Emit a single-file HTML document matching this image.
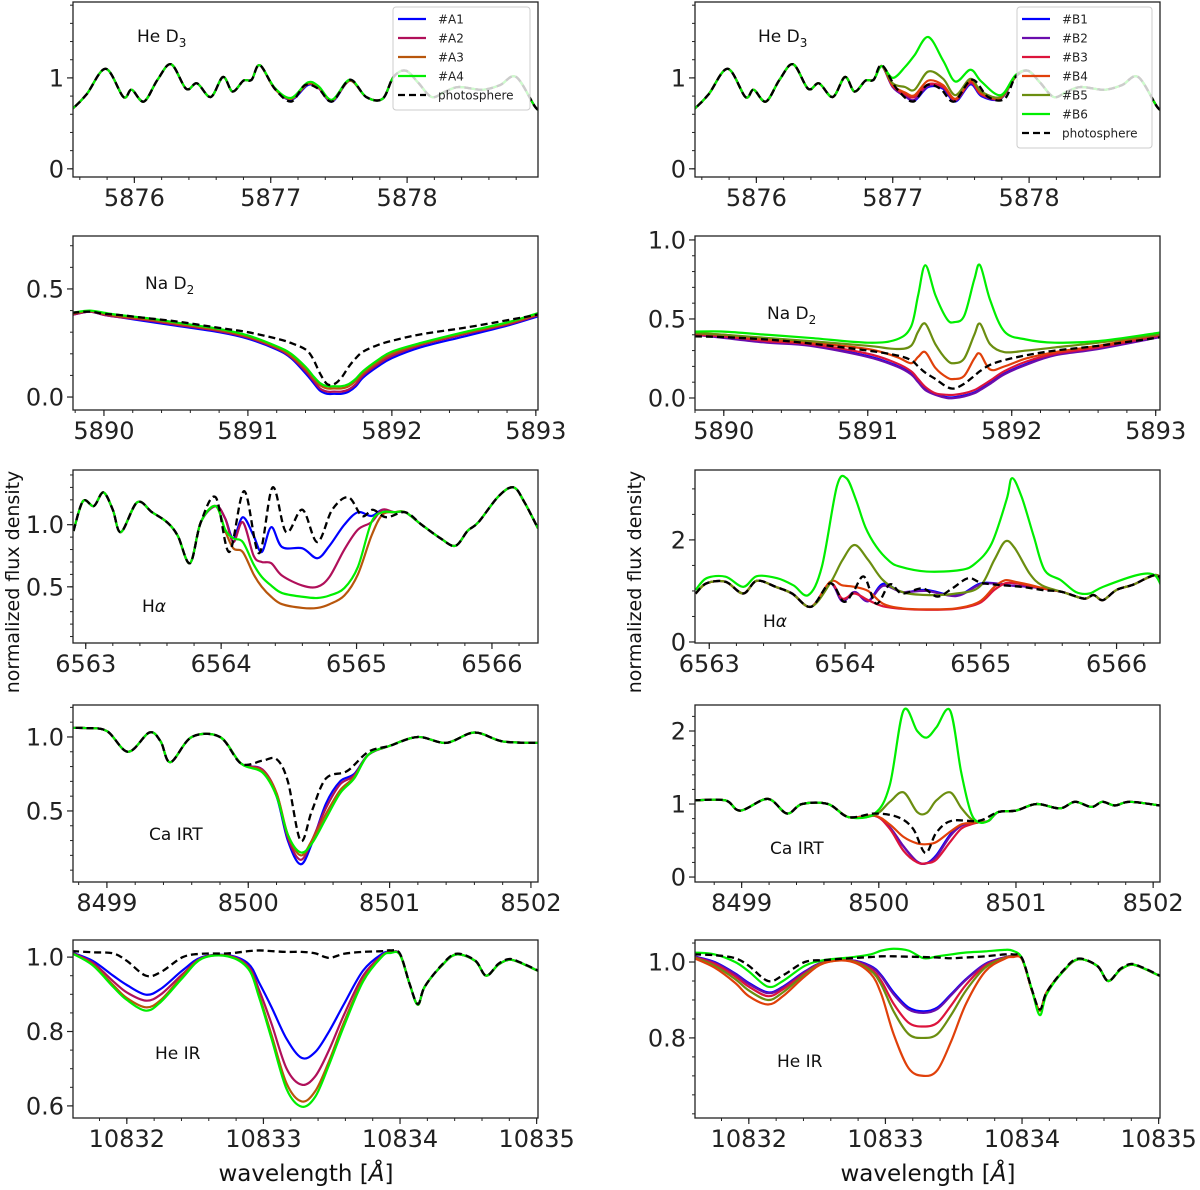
<!DOCTYPE html>
<html><head><meta charset="utf-8"><title>Spectral line profiles</title>
<style>
html,body{margin:0;padding:0;background:#fff;}
svg{display:block;font-family:"DejaVu Sans","Liberation Sans",sans-serif;}
</style></head>
<body>
<svg id="fig" width="1200" height="1190" viewBox="0 0 1200 1190" xmlns="http://www.w3.org/2000/svg">
<text x="0" y="0" transform="translate(19,582) rotate(-90)" text-anchor="middle" font-size="19" fill="#111">normalized flux density</text>
<text x="0" y="0" transform="translate(641,582) rotate(-90)" text-anchor="middle" font-size="19" fill="#111">normalized flux density</text>
<text x="306" y="1181" text-anchor="middle" font-size="23" fill="#111">wavelength [<tspan font-style="italic">Å</tspan>]</text>
<text x="928" y="1181" text-anchor="middle" font-size="23" fill="#111">wavelength [<tspan font-style="italic">Å</tspan>]</text>
</svg>
<script>
// ---------- He D3 ----------
const hed3X=[5875.5,5875.55,5875.65,5875.79,5875.92,5875.98,5876.07,5876.17,5876.27,5876.38,5876.46,5876.56,5876.65,5876.72,5876.80,5876.86,5876.92,5877.03,5877.15,5877.25,5877.35,5877.45,5877.58,5877.70,5877.82,5877.90,5877.99,5878.08,5878.18,5878.28,5878.38,5878.55,5878.68,5878.80,5878.94,5879.0];
const hed3Photo=[0.62,0.665,0.82,1.10,0.79,0.87,0.74,0.98,1.15,0.88,0.94,0.79,1.01,0.85,0.97,0.98,1.14,0.88,0.74,0.92,0.88,0.74,0.98,0.79,0.77,1.01,1.08,0.95,0.79,0.85,0.90,0.87,0.92,1.01,0.68,0.62];
const hed3WinA=[5877.03,5877.15,5877.27,5877.35,5877.45,5877.58];
const hed3A1=[0.88,0.76,0.92,0.89,0.74,0.97];
const hed3A2=[0.88,0.77,0.93,0.89,0.75,0.97];
const hed3A3=[0.88,0.77,0.935,0.90,0.75,0.97];
const hed3A4=[0.89,0.78,0.95,0.91,0.76,0.98];
const hed3WinB=[5876.92,5877.0,5877.09,5877.16,5877.26,5877.37,5877.46,5877.57,5877.65,5877.79,5877.9];
const hed3B1=[1.13,0.90,0.80,0.75,0.90,0.88,0.74,0.93,0.80,0.77,1.01];
const hed3B2=[1.13,0.90,0.80,0.76,0.91,0.89,0.75,0.94,0.81,0.77,1.01];
const hed3B3=[1.13,0.91,0.82,0.79,0.93,0.90,0.76,0.95,0.82,0.78,1.01];
const hed3B4=[1.13,0.92,0.84,0.81,0.97,0.92,0.77,0.97,0.83,0.78,1.01];
const hed3B5=[1.13,0.94,0.90,0.87,1.07,0.99,0.81,0.99,0.85,0.79,1.01];
const hed3B6=[1.13,1.0,1.12,1.25,1.45,1.19,0.96,1.09,0.96,0.81,1.03];
// ---------- Na D2 ----------
const naLX=[5889.78,5889.9,5890.0,5890.1,5890.3,5890.5,5890.8,5891.0,5891.2,5891.3,5891.4,5891.45,5891.5,5891.55,5891.6,5891.65,5891.7,5891.75,5891.8,5891.9,5892.0,5892.2,5892.5,5892.8,5893.0,5893.05];
const naLPhoto=[0.39,0.395,0.385,0.38,0.365,0.35,0.32,0.30,0.27,0.25,0.22,0.18,0.11,0.06,0.06,0.09,0.14,0.18,0.21,0.24,0.26,0.29,0.32,0.355,0.38,0.39];
const naA1=[0.38,0.395,0.38,0.37,0.35,0.33,0.30,0.27,0.22,0.18,0.11,0.07,0.03,0.015,0.015,0.015,0.025,0.05,0.09,0.14,0.18,0.23,0.28,0.33,0.37,0.38];
const naA2=[0.38,0.395,0.38,0.37,0.355,0.335,0.305,0.275,0.225,0.185,0.12,0.08,0.04,0.025,0.025,0.025,0.035,0.06,0.10,0.15,0.19,0.24,0.29,0.335,0.375,0.385];
const naA3=[0.385,0.398,0.385,0.375,0.36,0.34,0.31,0.28,0.23,0.19,0.13,0.09,0.055,0.04,0.04,0.04,0.05,0.075,0.11,0.16,0.20,0.245,0.295,0.34,0.38,0.39];
const naA4=[0.39,0.40,0.39,0.38,0.365,0.345,0.315,0.285,0.235,0.20,0.14,0.10,0.065,0.05,0.05,0.05,0.06,0.085,0.12,0.17,0.21,0.25,0.30,0.345,0.385,0.395];
const naRX=[5889.8,5890.0,5890.3,5890.6,5891.0,5891.2,5891.3,5891.35,5891.4,5891.47,5891.55,5891.6,5891.67,5891.74,5891.78,5891.85,5891.95,5892.1,5892.3,5892.6,5893.0,5893.05];
const naRPhoto=[0.39,0.385,0.37,0.345,0.30,0.27,0.24,0.20,0.16,0.12,0.07,0.06,0.09,0.14,0.17,0.21,0.24,0.27,0.30,0.33,0.38,0.39];
const naB1=[0.40,0.385,0.355,0.335,0.265,0.205,0.155,0.105,0.055,0.025,0.005,0.005,0.015,0.035,0.055,0.095,0.155,0.215,0.275,0.315,0.385,0.395];
const naB2=[0.40,0.38,0.35,0.33,0.26,0.20,0.15,0.10,0.05,0.02,0.00,0.00,0.01,0.03,0.05,0.09,0.15,0.21,0.27,0.31,0.38,0.39];
const naB3=[0.40,0.39,0.36,0.34,0.28,0.22,0.17,0.12,0.07,0.03,0.02,0.02,0.03,0.05,0.07,0.11,0.17,0.23,0.28,0.32,0.39,0.40];
const naB4=[0.41,0.40,0.37,0.35,0.31,0.26,0.22,0.26,0.29,0.19,0.13,0.12,0.14,0.25,0.28,0.18,0.20,0.25,0.29,0.33,0.40,0.41];
const naB5=[0.41,0.40,0.38,0.36,0.33,0.31,0.33,0.42,0.47,0.34,0.24,0.22,0.25,0.40,0.47,0.34,0.29,0.30,0.32,0.35,0.40,0.41];
const naB6=[0.42,0.42,0.40,0.38,0.35,0.37,0.45,0.65,0.84,0.65,0.50,0.48,0.52,0.75,0.84,0.62,0.42,0.37,0.35,0.36,0.41,0.42];
// ---------- H alpha ----------
const haLX=[6562.91,6562.98,6563.06,6563.13,6563.2,6563.26,6563.38,6563.49,6563.6,6563.68,6563.77,6563.85,6563.96,6564.06,6564.17,6564.28,6564.38,6564.48,6564.60,6564.71,6564.82,6564.94,6565.04,6565.12,6565.22,6565.36,6565.48,6565.62,6565.73,6565.82,6565.9,6566.05,6566.16,6566.24,6566.34];
const haLPhoto=[0.95,1.19,1.15,1.26,1.12,0.94,1.18,1.10,1.02,0.91,0.69,1.02,1.22,0.78,1.27,0.77,1.30,0.94,1.12,0.86,1.12,1.22,1.07,1.12,1.06,1.10,1.0,0.89,0.83,0.95,1.02,1.23,1.30,1.18,0.97];
const haWinA=[6563.96,6564.03,6564.09,6564.16,6564.24,6564.30,6564.37,6564.45,6564.6,6564.71,6564.8,6564.91,6565.01,6565.11,6565.19,6565.28];
const haA1=[1.15,1.05,0.89,1.06,0.91,0.78,0.98,0.82,0.81,0.73,0.83,1.0,1.10,1.07,1.12,1.10];
const haA2=[1.15,1.05,0.86,1.02,0.75,0.70,0.69,0.59,0.51,0.50,0.58,0.80,0.96,1.02,1.12,1.10];
const haA3=[1.15,0.95,0.81,0.78,0.60,0.50,0.42,0.36,0.33,0.33,0.36,0.43,0.60,0.91,1.08,1.10];
const haA4=[1.15,0.96,0.89,0.86,0.68,0.58,0.51,0.45,0.42,0.41,0.43,0.49,0.66,1.02,1.10,1.10];
const haRX=[6562.9,6562.98,6563.12,6563.25,6563.35,6563.49,6563.61,6563.75,6563.89,6563.99,6564.06,6564.14,6564.23,6564.33,6564.42,6564.57,6564.68,6564.79,6564.91,6565.02,6565.3,6565.45,6565.6,6565.76,6565.83,6565.9,6566.0,6566.12,6566.3,6566.34];
const haRPhoto=[0.95,1.15,1.18,0.95,1.2,1.08,0.95,0.69,1.15,0.79,0.98,1.28,0.75,1.13,0.95,1.05,0.89,1.05,1.25,1.15,1.08,1.02,0.98,0.85,0.92,0.82,1.02,1.12,1.31,0.95];
const haB6X=[6562.9,6562.98,6563.12,6563.25,6563.35,6563.5,6563.62,6563.73,6563.83,6563.94,6564.01,6564.08,6564.15,6564.23,6564.32,6564.40,6564.6,6564.85,6564.96,6565.08,6565.19,6565.23,6565.3,6565.39,6565.47,6565.59,6565.70,6565.8,6565.9,6566.15,6566.28,6566.34];
const haB6=[1.02,1.25,1.28,1.08,1.29,1.25,1.11,0.92,1.48,3.05,3.21,2.79,2.25,1.87,1.60,1.48,1.38,1.41,1.54,1.93,2.79,3.21,2.85,2.07,1.41,1.21,0.98,0.95,1.08,1.31,1.31,1.02];
const haWinB=[6563.89,6563.98,6564.07,6564.17,6564.28,6564.42,6564.6,6564.82,6564.99,6565.1,6565.18,6565.25,6565.36,6565.45];
const haB1=[1.15,0.80,0.98,0.80,1.14,0.98,1.02,0.91,1.14,1.15,1.12,1.10,1.08,1.05];
const haB2=[1.15,0.80,0.98,0.80,1.10,0.98,1.0,0.90,1.12,1.15,1.12,1.10,1.08,1.05];
const haB3=[1.15,0.85,0.95,0.82,0.70,0.65,0.63,0.65,0.76,1.02,1.15,1.15,1.10,1.05];
const haB4=[1.18,1.11,1.08,1.0,0.75,0.66,0.64,0.66,0.79,1.08,1.21,1.18,1.12,1.06];
const haB5=[1.15,1.60,1.90,1.61,1.21,0.98,0.92,0.95,1.08,1.61,1.97,1.84,1.34,1.11];
// ---------- Ca IRT ----------
const caLX=[8498.7,8498.85,8499.0,8499.15,8499.3,8499.38,8499.45,8499.6,8499.8,8499.95,8500.1,8500.2,8500.28,8500.37,8500.45,8500.55,8500.7,8500.85,8501.0,8501.2,8501.4,8501.6,8501.8,8502.05];
const caLPhoto=[1.06,1.06,1.04,0.90,1.03,0.97,0.83,1.0,1.0,0.82,0.84,0.85,0.70,0.30,0.50,0.72,0.77,0.90,0.94,1.0,0.96,1.03,0.97,0.96];
const caWinA=[8499.95,8500.1,8500.2,8500.28,8500.37,8500.45,8500.55,8500.65,8500.75,8500.85];
const caA1=[0.82,0.78,0.60,0.30,0.14,0.28,0.55,0.70,0.75,0.88];
const caA2=[0.82,0.78,0.62,0.32,0.17,0.30,0.52,0.68,0.74,0.88];
const caA3=[0.82,0.77,0.62,0.34,0.20,0.30,0.48,0.64,0.73,0.88];
const caA4=[0.82,0.76,0.60,0.34,0.22,0.28,0.45,0.62,0.72,0.88];
const caRX=[8498.65,8498.88,8498.99,8499.19,8499.33,8499.44,8499.63,8499.78,8499.97,8500.14,8500.25,8500.34,8500.42,8500.53,8500.73,8500.87,8501.0,8501.15,8501.32,8501.43,8501.55,8501.63,8501.72,8501.83,8502.05];
const caRPhoto=[1.05,1.05,0.91,1.07,0.87,1.0,1.0,0.82,0.87,0.82,0.66,0.33,0.61,0.77,0.77,0.89,0.91,1.0,0.94,1.03,0.96,1.03,0.98,1.03,0.98];
const caWinB=[8499.97,8500.08,8500.18,8500.28,8500.35,8500.42,8500.52,8500.6,8500.67,8500.73,8500.8];
const caB1=[0.84,0.68,0.42,0.21,0.19,0.30,0.58,0.71,0.73,0.75,0.77];
const caB2=[0.84,0.68,0.42,0.21,0.19,0.28,0.56,0.70,0.73,0.75,0.77];
const caB3=[0.84,0.66,0.36,0.20,0.19,0.24,0.48,0.66,0.72,0.75,0.77];
const caB4=[0.84,0.72,0.55,0.46,0.45,0.48,0.62,0.72,0.74,0.75,0.77];
const caB5=[0.85,1.03,1.16,0.89,0.88,1.05,1.16,0.95,0.80,0.75,0.77];
const caB6=[0.87,1.26,2.28,2.0,1.91,2.05,2.28,1.44,0.89,0.75,0.77];
// ---------- He IR ----------
const heirX=[10831.6,10831.75,10831.9,10832.0,10832.14,10832.25,10832.41,10832.55,10832.74,10832.89,10832.97,10833.06,10833.17,10833.28,10833.38,10833.48,10833.59,10833.73,10833.87,10833.93,10834.0,10834.07,10834.13,10834.18,10834.3,10834.41,10834.55,10834.63,10834.72,10834.8,10834.88,10835.01];
const heirTail=[0.928,0.872,0.92,0.975,1.007,0.99,0.95,0.98,0.993,0.985,0.963];
const heirLPhoto=[1.016,1.013,1.01,0.99,0.95,0.96,1.0,1.009,1.01,1.016,1.018,1.016,1.014,1.014,1.01,0.998,1.009,1.014,1.016,1.018,1.009,0.928,0.874,0.92,0.977,1.009,0.991,0.95,0.982,0.995,0.986,0.964];
const heirA1=[1.012,0.99,0.95,0.925,0.899,0.915,0.965,1.0,1.005,0.982,0.93,0.865,0.78,0.729,0.745,0.80,0.874,0.964,1.009,1.013,1.008].concat(heirTail);
const heirA2=[1.011,0.985,0.935,0.905,0.883,0.90,0.955,0.998,1.004,0.975,0.91,0.82,0.70,0.657,0.68,0.75,0.845,0.95,1.005,1.012,1.007].concat(heirTail);
const heirA3=[1.01,0.98,0.925,0.89,0.865,0.885,0.95,0.997,1.003,0.97,0.895,0.79,0.66,0.612,0.64,0.72,0.825,0.94,1.003,1.012,1.007].concat(heirTail);
const heirA4=[1.01,0.978,0.92,0.885,0.856,0.88,0.945,0.996,1.002,0.968,0.89,0.78,0.645,0.598,0.625,0.71,0.815,0.935,1.002,1.011,1.006].concat(heirTail);
const heirRPhoto=[1.02,1.018,1.01,0.99,0.95,0.965,1.0,1.005,1.01,1.013,1.015,1.015,1.014,1.013,1.012,1.01,1.012,1.015,1.02,1.02,1.01,0.93,0.875,0.92,0.977,1.009,0.99,0.95,0.982,0.995,0.986,0.964];
const heirB1=[1.015,1.0,0.97,0.945,0.92,0.935,0.975,1.0,1.005,0.99,0.965,0.92,0.88,0.87,0.88,0.915,0.955,0.995,1.012,1.015,1.008].concat(heirTail);
const heirB2=[1.014,0.998,0.968,0.942,0.918,0.933,0.974,1.0,1.005,0.988,0.962,0.915,0.875,0.866,0.876,0.912,0.953,0.994,1.012,1.015,1.008].concat(heirTail);
const heirB3=[1.013,0.995,0.962,0.935,0.91,0.928,0.97,0.999,1.004,0.982,0.95,0.89,0.84,0.83,0.84,0.885,0.94,0.99,1.011,1.015,1.008].concat(heirTail);
const heirB4=[1.01,0.985,0.945,0.91,0.888,0.91,0.962,0.997,1.002,0.97,0.915,0.81,0.72,0.70,0.715,0.79,0.89,0.975,1.008,1.013,1.007].concat(heirTail);
const heirB5=[1.012,0.99,0.955,0.925,0.90,0.92,0.967,0.998,1.003,0.978,0.94,0.87,0.81,0.80,0.81,0.86,0.925,0.985,1.01,1.014,1.008].concat(heirTail);
const heirB6=[1.025,1.02,1.0,0.975,0.935,0.95,0.99,1.005,1.012,1.02,1.03,1.035,1.03,1.01,1.015,1.02,1.025,1.028,1.032,1.03,1.01,0.93,0.86,0.915,0.975,1.007,0.99,0.95,0.98,0.993,0.985,0.963];

// colors / names
const namesA=["#A1","#A2","#A3","#A4"];
const namesB=["#B1","#B2","#B3","#B4","#B5","#B6"];
const colA=["#0000ff","#b0105a","#b8560c","#00ee00"];
const colB=["#0000ff","#6a0dad","#dc143c","#e0400a","#6b8e10","#00ee00"];

const NS="http://www.w3.org/2000/svg";
const svg=document.getElementById("fig");
function mk(tag,attrs,parent){const e=document.createElementNS(NS,tag);for(const k in attrs)e.setAttribute(k,attrs[k]);(parent||svg).appendChild(e);return e;}

function splice(bx,by,wx,wy){const lo=wx[0],hi=wx[wx.length-1];const xs=[],ys=[];let done=false;
  for(let i=0;i<bx.length;i++){ if(bx[i]<lo||bx[i]>hi){ if(bx[i]>hi&&!done){xs.push(...wx);ys.push(...wy);done=true;} xs.push(bx[i]);ys.push(by[i]);} }
  if(!done){xs.push(...wx);ys.push(...wy);} return [xs,ys];}

function smoothPath(pts){let d="M"+pts[0][0].toFixed(2)+","+pts[0][1].toFixed(2);
  for(let i=0;i<pts.length-1;i++){const p0=pts[i-1]||pts[i],p1=pts[i],p2=pts[i+1],p3=pts[i+2]||p2;
    const c1=[p1[0]+(p2[0]-p0[0])/6,p1[1]+(p2[1]-p0[1])/6],c2=[p2[0]-(p3[0]-p1[0])/6,p2[1]-(p3[1]-p1[1])/6];
    d+="C"+c1[0].toFixed(2)+","+c1[1].toFixed(2)+" "+c2[0].toFixed(2)+","+c2[1].toFixed(2)+" "+p2[0].toFixed(2)+","+p2[1].toFixed(2);}
  return d;}

let clipN=0;
function panel(c){
  const g=mk("g",{});
  
  
  const X=v=>c.x0+(v-c.xmin)/(c.xmax-c.xmin)*c.w;
  const Y=v=>c.y0+c.h-(v-c.ymin)/(c.ymax-c.ymin)*c.h;
  const id="clip"+(clipN++);
  const cp=mk("clipPath",{id:id},g);mk("rect",{x:c.x0,y:c.y0,width:c.w,height:c.h},cp);
  const lg=mk("g",{"clip-path":"url(#"+id+")"},g);
  c.series.forEach(s=>{
    const pts=s.xs.map((v,i)=>[X(v),Y(s.ys[i])]);
    const p=mk("path",{d:smoothPath(pts),fill:"none",stroke:s.color,"stroke-width":s.dash?2.3:2.2,"stroke-linejoin":"round"},lg);
    if(s.dash)p.setAttribute("stroke-dasharray","7,4");
    
    
  });
  const fr=mk("rect",{x:c.x0,y:c.y0,width:c.w,height:c.h,fill:"none",stroke:"#222","stroke-width":1.3},g);
  
  
  for(let v=Math.ceil(c.xmin/0.2)*0.2;v<=c.xmax;v+=0.2){const x=X(v);mk("line",{x1:x,x2:x,y1:c.y0+c.h,y2:c.y0+c.h+3,stroke:"#222","stroke-width":1},g);}
  c.xt.forEach(v=>{const x=X(v);mk("line",{x1:x,x2:x,y1:c.y0+c.h,y2:c.y0+c.h+6,stroke:"#222","stroke-width":1.2},g);
    const t=mk("text",{x:x,y:c.y0+c.h+29,"text-anchor":"middle","font-size":24,fill:"#222"},g);t.textContent=String(v);
    
    });
  const st=c.ymstep;for(let v=Math.ceil(c.ymin/st-1e-6)*st;v<=c.ymax+1e-9;v+=st){const y=Y(v);mk("line",{x1:c.x0-3,x2:c.x0,y1:y,y2:y,stroke:"#222","stroke-width":1},g);}
  c.yt.forEach((v,i)=>{const y=Y(v);mk("line",{x1:c.x0-6,x2:c.x0,y1:y,y2:y,stroke:"#222","stroke-width":1.2},g);
    const t=mk("text",{x:c.x0-9,y:y+8.5,"text-anchor":"end","font-size":24,fill:"#222"},g);t.textContent=c.ytl[i];
    
    });
  const lb=mk("text",{x:c.lx,y:c.ly,"font-size":17,fill:"#111"},g);lb.innerHTML=c.label;
  
  
  if(c.legend){const L=c.legend;const n=L.names.length;
    const lgd=mk("g",{},g);
    
    
    mk("rect",{x:L.x,y:L.y,width:L.w,height:n*19+8,rx:3,fill:"#fff","fill-opacity":0.8,stroke:"#ccc","stroke-width":1},lgd);
    L.names.forEach((nm,i)=>{const yy=L.y+12+i*19;
      const ln=mk("line",{x1:L.x+5,x2:L.x+33,y1:yy,y2:yy,stroke:L.colors[i],"stroke-width":2.2},lgd);
      if(nm==="photosphere")ln.setAttribute("stroke-dasharray","7,4");
      const t=mk("text",{x:L.x+45,y:yy+4.5,"font-size":12,fill:"#222"},lgd);t.textContent=nm;
      
      });}
}
function ser(xs,ys,color,name,dash){return {xs:xs,ys:ys,color:color,name:name,dash:!!dash};}

const L0=73,R0=695,W=465;
const legA={x:393,y:7,w:137,names:namesA.concat(["photosphere"]),colors:colA.concat(["#000"])};
const legB={x:1017,y:7,w:135,names:namesB.concat(["photosphere"]),colors:colB.concat(["#000"])};

const hedA=[hed3A1,hed3A2,hed3A3,hed3A4], hedB=[hed3B1,hed3B2,hed3B3,hed3B4,hed3B5,hed3B6];
panel({name:"panel-he-d3-a",x0:L0,y0:2,w:W,h:175,xmin:5875.55,xmax:5878.96,ymin:-0.09,ymax:1.835,xt:[5876,5877,5878],yt:[0,1],ytl:["0","1"],ymstep:0.2,
  label:'He D<tspan font-size="12" dy="5">3</tspan>',lx:137,ly:42,legend:legA,
  series:hedA.map((a,i)=>{const s=splice(hed3X,hed3Photo,hed3WinA,a);return ser(s[0],s[1],colA[i],"line-a"+(i+1));}).concat([ser(hed3X,hed3Photo,"#000","line-photosphere",true)])});
panel({name:"panel-he-d3-b",x0:R0,y0:2,w:W,h:175,xmin:5875.55,xmax:5878.96,ymin:-0.09,ymax:1.835,xt:[5876,5877,5878],yt:[0,1],ytl:["0","1"],ymstep:0.2,
  label:'He D<tspan font-size="12" dy="5">3</tspan>',lx:758,ly:42,legend:legB,
  series:hedB.map((a,i)=>{const s=splice(hed3X,hed3Photo,hed3WinB,a);return ser(s[0],s[1],colB[i],"line-b"+(i+1));}).concat([ser(hed3X,hed3Photo,"#000","line-photosphere",true)])});
panel({name:"panel-na-d2-a",x0:L0,y0:236,w:W,h:174,xmin:5889.785,xmax:5893.015,ymin:-0.06,ymax:0.745,xt:[5890,5891,5892,5893],yt:[0,0.5],ytl:["0.0","0.5"],ymstep:0.1,
  label:'Na D<tspan font-size="12" dy="5">2</tspan>',lx:145,ly:289,
  series:[naA1,naA2,naA3,naA4].map((a,i)=>ser(naLX,a,colA[i],"line-a"+(i+1))).concat([ser(naLX,naLPhoto,"#000","line-photosphere",true)])});
panel({name:"panel-na-d2-b",x0:R0,y0:236,w:W,h:174,xmin:5889.8,xmax:5893.03,ymin:-0.076,ymax:1.025,xt:[5890,5891,5892,5893],yt:[0,0.5,1],ytl:["0.0","0.5","1.0"],ymstep:0.1,
  label:'Na D<tspan font-size="12" dy="5">2</tspan>',lx:767,ly:319,
  series:[naB1,naB2,naB3,naB4,naB5,naB6].map((a,i)=>ser(naRX,a,colB[i],"line-b"+(i+1))).concat([ser(naRX,naRPhoto,"#000","line-photosphere",true)])});
panel({name:"panel-h-alpha-a",x0:L0,y0:470,w:W,h:173,xmin:6562.906,xmax:6566.34,ymin:0.048,ymax:1.44,xt:[6563,6564,6565,6566],yt:[0.5,1],ytl:["0.5","1.0"],ymstep:0.1,
  label:'H<tspan font-style="italic">α</tspan>',lx:142,ly:612,
  series:[haA1,haA2,haA3,haA4].map((a,i)=>{const s=splice(haLX,haLPhoto,haWinA,a);return ser(s[0],s[1],colA[i],"line-a"+(i+1));}).concat([ser(haLX,haLPhoto,"#000","line-photosphere",true)])});
const haBs=[haB1,haB2,haB3,haB4,haB5];
panel({name:"panel-h-alpha-b",x0:R0,y0:470,w:W,h:173,xmin:6562.895,xmax:6566.32,ymin:-0.02,ymax:3.37,xt:[6563,6564,6565,6566],yt:[0,2],ytl:["0","2"],ymstep:0.5,
  label:'H<tspan font-style="italic">α</tspan>',lx:763,ly:627,
  series:haBs.map((a,i)=>{const s=splice(haRX,haRPhoto,haWinB,a);return ser(s[0],s[1],colB[i],"line-b"+(i+1));}).concat([ser(haB6X,haB6,colB[5],"line-b6"),ser(haRX,haRPhoto,"#000","line-photosphere",true)])});
panel({name:"panel-ca-irt-a",x0:L0,y0:705,w:W,h:177,xmin:8498.76,xmax:8502.05,ymin:0.02,ymax:1.216,xt:[8499,8500,8501,8502],yt:[0.5,1],ytl:["0.5","1.0"],ymstep:0.1,
  label:'Ca IRT',lx:149,ly:840,
  series:[caA1,caA2,caA3,caA4].map((a,i)=>{const s=splice(caLX,caLPhoto,caWinA,a);return ser(s[0],s[1],colA[i],"line-a"+(i+1));}).concat([ser(caLX,caLPhoto,"#000","line-photosphere",true)])});
panel({name:"panel-ca-irt-b",x0:R0,y0:705,w:W,h:177,xmin:8498.66,xmax:8502.05,ymin:-0.068,ymax:2.356,xt:[8499,8500,8501,8502],yt:[0,1,2],ytl:["0","1","2"],ymstep:0.2,
  label:'Ca IRT',lx:770,ly:854,
  series:[caB1,caB2,caB3,caB4,caB5,caB6].map((a,i)=>{const s=splice(caRX,caRPhoto,caWinB,a);return ser(s[0],s[1],colB[i],"line-b"+(i+1));}).concat([ser(caRX,caRPhoto,"#000","line-photosphere",true)])});
panel({name:"panel-he-ir-a",x0:L0,y0:940,w:W,h:178,xmin:10831.606,xmax:10835.01,ymin:0.5675,ymax:1.046,xt:[10832,10833,10834,10835],yt:[0.6,0.8,1.0],ytl:["0.6","0.8","1.0"],ymstep:0.05,
  label:'He IR',lx:155,ly:1059,
  series:[heirA1,heirA2,heirA3,heirA4].map((a,i)=>ser(heirX,a,colA[i],"line-a"+(i+1))).concat([ser(heirX,heirLPhoto,"#000","line-photosphere",true)])});
panel({name:"panel-he-ir-b",x0:R0,y0:940,w:W,h:178,xmin:10831.606,xmax:10835.01,ymin:0.589,ymax:1.058,xt:[10832,10833,10834,10835],yt:[0.8,1.0],ytl:["0.8","1.0"],ymstep:0.05,
  label:'He IR',lx:777,ly:1067,
  series:[heirB1,heirB2,heirB3,heirB5,heirB4,heirB6].map((a,i)=>ser(heirX,a,[colB[0],colB[1],colB[2],colB[4],colB[3],colB[5]][i],"line-"+["b1","b2","b3","b5","b4","b6"][i])).concat([ser(heirX,heirRPhoto,"#000","line-photosphere",true)])});
</script>
</body></html>
